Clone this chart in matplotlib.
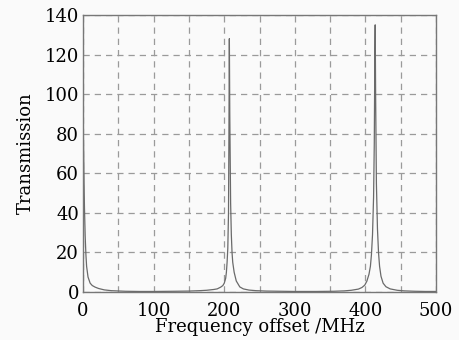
import matplotlib
matplotlib.use("Agg")
import matplotlib.pyplot as plt

# transmission curve
freq = [0, 0.5, 1, 1.5, 2, 3, 4, 5, 7, 10, 13, 17, 22, 30, 40, 60, 80, 100, 130, 150,
        165, 175, 185, 190, 195, 198, 200, 202, 203, 204, 205, 206, 206.6, 207.2,
        207.8, 209, 210, 211, 212, 214, 217, 222, 227, 235, 245, 260, 280, 300, 330,
        355, 370, 380, 390, 395, 399, 402, 405, 407, 408.5, 410, 411.5, 412.5, 413.3, 413.8,
        414.4, 415.5, 417, 418.5, 420, 422, 425, 429, 435, 445, 455, 470, 485, 500]
trans = [92, 78, 64, 52, 42, 28, 19, 13, 7.6, 4.5, 3.3, 2.5, 1.8, 1.1, 0.7, 0.4, 0.3, 0.3, 0.4, 0.5,
         0.7, 0.9, 1.3, 1.6, 2.5, 3.3, 4.5, 7.0, 10, 15, 22, 40, 80, 128,
         90, 45, 29, 20, 15, 10, 5.6, 2.6, 1.6, 1.0, 0.7, 0.5, 0.4, 0.3, 0.3,
         0.4, 0.6, 0.9, 1.5, 2.3, 3.5, 5.5, 9.0, 13, 19, 29, 48, 75, 120, 135,
         100, 55, 32, 20, 13, 8.0, 4.5, 2.7, 1.6, 0.9, 0.6, 0.4, 0.3, 0.3]

x_ticks = [0, 100, 200, 300, 400, 500]
y_ticks = [0, 20, 40, 60, 80, 100, 120, 140]

plt.rcParams["font.family"] = ["DejaVu Serif"]

fig = plt.figure(figsize=(4.59, 3.4), dpi=100)
fig.patch.set_facecolor("#fafafa")
ax = fig.add_axes([0.181, 0.141, 0.769, 0.815])
ax.set_facecolor("#fafafa")

ax.plot(freq, trans, color="#6a6a6a", lw=0.9)

ax.set_xlim(0, 500)
ax.set_ylim(0, 140)
ax.set_xticks(x_ticks)
ax.set_xticks(range(50, 500, 100), minor=True)
ax.set_yticks(y_ticks)
ax.grid(True, which="both", axis="x", color="#9a9a9a", ls=(0, (5, 4)), lw=0.9)
ax.grid(True, axis="y", color="#9a9a9a", ls=(0, (5, 4)), lw=0.9)
ax.tick_params(which="both", length=0, labelsize=13)
ax.tick_params(axis="x", pad=7)
ax.tick_params(axis="y", pad=3)

for s in ax.spines.values():
    s.set_color("#777777")
    s.set_linewidth(1.0)

ax.set_xlabel("Frequency offset /MHz", fontsize=13, labelpad=-1)
ax.set_ylabel("Transmission", fontsize=13, labelpad=7)

fig.savefig("out.png", dpi=100, facecolor=fig.get_facecolor())
